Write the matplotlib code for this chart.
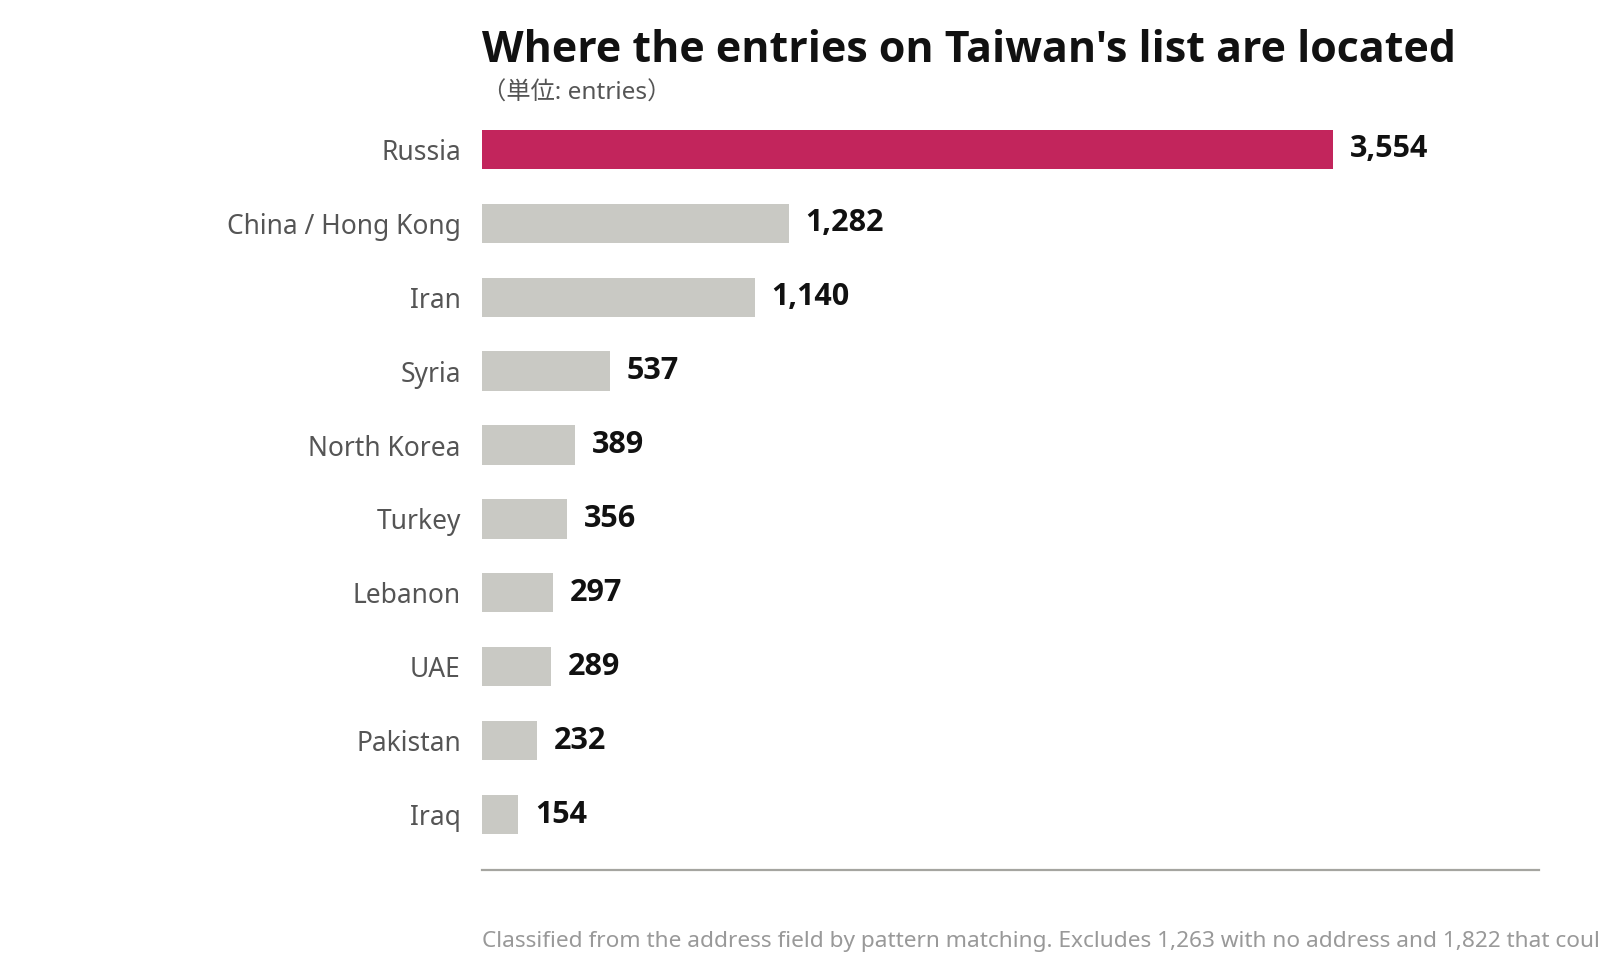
import matplotlib
matplotlib.use("Agg")
import matplotlib.pyplot as plt

plt.rcParams["font.family"] = ["Noto Sans", "Noto Sans CJK JP", "DejaVu Sans"]
BOLD_FONT = ["Open Sans", "Roboto", "DejaVu Sans"]

# ── Data ──────────────────────────────────────────
countries = ["Russia", "China / Hong Kong", "Iran", "Syria", "North Korea",
             "Turkey", "Lebanon", "UAE", "Pakistan", "Iraq"]
entries = [3554, 1282, 1140, 537, 389, 356, 297, 289, 232, 154]
highlight = "Russia"

title = "Where the entries on Taiwan's list are located"
unit_note = "（単位: entries）"
footnote = ("Classified from the address field by pattern matching. Excludes 1,263 "
            "with no address and 1,822 that could not be classified.")

RED = "#C2255C"
GREY = "#C9C9C4"

fig = plt.figure(figsize=(16, 9.8), dpi=100)
ax = fig.add_axes([0.301, 0.1125, 0.6607, 0.7729])

colors = [RED if c == highlight else GREY for c in countries]
ypos = list(range(len(countries)))
ax.barh(ypos, entries, height=0.53, color=colors, zorder=2)

for y, v in zip(ypos, entries):
    ax.text(v + 70, y, f"{v:,}", va="center", ha="left", family=BOLD_FONT,
            fontsize=22, fontweight="bold", color="#111111")

ax.set_xlim(0, 4414)
ax.set_ylim(9.745, -0.5)
ax.set_yticks(ypos)
ax.set_yticklabels(countries, fontsize=19, color="#555555")
ax.tick_params(axis="y", length=0, pad=15)
ax.set_xticks([])

for side in ["top", "right", "left"]:
    ax.spines[side].set_visible(False)
ax.spines["bottom"].set_color("#A5A5A0")
ax.spines["bottom"].set_linewidth(1.6)

fig.text(0.301, 0.937, title, fontsize=31, fontweight="bold", family=BOLD_FONT,
         color="#111111", ha="left", va="baseline")
fig.text(0.301, 0.898, unit_note, fontsize=17.5, color="#555555",
         ha="left", va="baseline")
fig.text(0.301, 0.034, footnote, fontsize=16.3, color="#999999",
         ha="left", va="baseline")

fig.savefig("out.png", dpi=100)
